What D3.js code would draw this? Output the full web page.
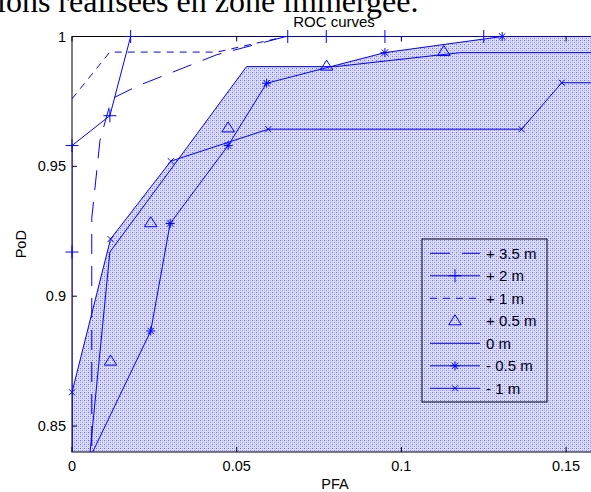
<!DOCTYPE html>
<html>
<head>
<meta charset="utf-8">
<script src="https://cdn.jsdelivr.net/npm/d3@7"></script>
<style>
body { margin: 0; background: #fff; }
text { font-family: "Liberation Sans", Arial, sans-serif; fill: #000; }
</style>
</head>
<body>
<div id="chart"></div>
<script>
var w = 591,
    h = 492,
    m = [36.5, -8, 40, 72]; // top right bottom left (plot runs past the right edge)

// data
var xTicks = [0, 0.05, 0.1, 0.15],
    yTicks = [0.85, 0.9, 0.95, 1];

var pfa35 = [0.006, 0.006, 0.0085, 0.012, 0.02, 0.044, 0.065, 0.16],
    pod35 = [0.83, 0.93, 0.96, 0.976, 0.981, 0.993, 1, 1];
var pfa2 = [0, 0, 0, 0.0115, 0.0178, 0.0655, 0.0772, 0.095, 0.125, 0.16],
    pod2 = [0.83, 0.917, 0.958, 0.9695, 1, 1, 1, 1, 1, 1];
var pfa1 = [0, 0.0115, 0.044, 0.065, 0.16],
    pod1 = [0.976, 0.994, 0.994, 1, 1];
var pfa05 = [0.0117, 0.0239, 0.0474, 0.0773, 0.1129],
    pod05 = [0.875, 0.9283, 0.9648, 0.9886, 0.9942];
var pfa0 = [0.0047, 0.0115, 0.053, 0.08, 0.118, 0.16],
    pod0 = [0.83, 0.917, 0.9884, 0.9884, 0.9938, 0.9938];
var pfaM05 = [0.0025, 0.0239, 0.0298, 0.0474, 0.0591, 0.095, 0.1306, 0.16],
    podM05 = [0.83, 0.8866, 0.928, 0.958, 0.982, 0.9938, 1, 1];
var pfaM1 = [0, 0, 0.0117, 0.03, 0.0596, 0.1365, 0.1487, 0.16],
    podM1 = [0.83, 0.863, 0.922, 0.952, 0.9643, 0.9643, 0.9822, 0.9822];

var labels = ["+ 3.5 m", "+ 2 m", "+ 1 m", "+ 0.5 m", "0 m", "- 0.5 m", "- 1 m"];

function zip(xs, ys) { return xs.map(function(x, i) { return [x, ys[i]]; }); }

var series = [
  {name: labels[0], pts: zip(pfa35, pod35), line: true, dash: "20,12", mark: null},
  {name: labels[1], pts: zip(pfa2, pod2), line: true, dash: null, mark: "plus"},
  {name: labels[2], pts: zip(pfa1, pod1), line: true, dash: "7,6", mark: null},
  {name: labels[3], pts: zip(pfa05, pod05), line: false, dash: null, mark: "tri"},
  {name: labels[4], pts: zip(pfa0, pod0), line: true, dash: null, mark: null},
  {name: labels[5], pts: zip(pfaM05, podM05), line: true, dash: null, mark: "star"},
  {name: labels[6], pts: zip(pfaM1, podM1), line: true, dash: null, mark: "cross"}
];

var markPath = {
  plus: "M-6.5,0H6.5M0,-6.5V6.5",
  star: "M-4.5,0H4.5M0,-4.5V4.5M-3.2,-3.2L3.2,3.2M-3.2,3.2L3.2,-3.2",
  cross: "M-3,-3L3,3M-3,3L3,-3",
  tri: "M0,-6L6.3,4H-6.3Z"
};

var x = d3.scaleLinear().domain([0, 0.16]).range([m[3], w - m[1]]),
    y = d3.scaleLinear().domain([0.84, 1]).range([h - m[2], m[0]]);

var svg = d3.select("#chart").append("svg")
    .attr("width", w)
    .attr("height", h);

// dotted shading pattern
var pat = svg.append("defs").append("pattern")
    .attr("id", "dots")
    .attr("patternUnits", "userSpaceOnUse")
    .attr("width", 4)
    .attr("height", 4);
pat.append("rect").attr("width", 4).attr("height", 4).attr("fill", "#dcdcff");
[[0, 0, "#6464ff"], [2, 2, "#8484ff"], [2, 0, "#b4b4ff"], [0, 2, "#b4b4ff"]].forEach(function(p) {
  pat.append("rect").attr("x", p[0]).attr("y", p[1]).attr("width", 1).attr("height", 1).attr("fill", p[2]);
});

svg.append("clipPath").attr("id", "plotclip")
  .append("rect")
    .attr("x", x(0)).attr("y", y(1))
    .attr("width", x(0.16) - x(0)).attr("height", y(0.84) - y(1));

// page text above the figure
svg.append("text")
    .attr("x", -3)
    .attr("y", 12)
    .style("font-family", "'Liberation Serif', 'Times New Roman', serif")
    .style("font-size", "32px")
    .text("ions réalisées en zone immergée.");

// shaded region: area below the lower curves
var area = d3.area()
    .x(function(d) { return x(d[0]); })
    .y0(y(0.84))
    .y1(function(d) { return y(d[1]); });

var shade = svg.append("g").attr("clip-path", "url(#plotclip)");
[4, 5, 6].forEach(function(i) {
  shade.append("path")
      .attr("d", area(series[i].pts))
      .attr("fill", "url(#dots)");
});

// axes box and ticks
var ax = svg.append("g");
ax.append("rect")
    .attr("x", x(0)).attr("y", y(1))
    .attr("width", x(0.16) - x(0)).attr("height", y(0.84) - y(1))
    .attr("fill", "none").attr("stroke", "#000");

ax.selectAll(".xt").data(xTicks).enter().append("path")
    .attr("d", function(d) {
      return "M" + x(d) + "," + y(0.84) + "v-5M" + x(d) + "," + y(1) + "v5";
    })
    .attr("stroke", "#000");
ax.selectAll(".yt").data(yTicks).enter().append("path")
    .attr("d", function(d) {
      return "M" + x(0) + "," + y(d) + "h5M" + x(0.16) + "," + y(d) + "h-5";
    })
    .attr("stroke", "#000");

ax.selectAll(".xl").data(xTicks).enter().append("text")
    .attr("x", function(d) { return x(d); })
    .attr("y", 470.5)
    .attr("text-anchor", "middle")
    .style("font-size", "14.5px")
    .text(function(d) { return d; });
ax.selectAll(".yl").data(yTicks).enter().append("text")
    .attr("x", 66)
    .attr("y", function(d) { return y(d) + 5; })
    .attr("text-anchor", "end")
    .style("font-size", "14.5px")
    .text(function(d) { return d; });

ax.append("text")
    .attr("x", 335).attr("y", 489)
    .attr("text-anchor", "middle")
    .style("font-size", "14.5px")
    .text("PFA");
ax.append("text")
    .attr("transform", "translate(26," + (y(0.92)) + ") rotate(-90)")
    .attr("text-anchor", "middle")
    .style("font-size", "14.5px")
    .text("PoD");
ax.append("text")
    .attr("x", 334).attr("y", 27)
    .attr("text-anchor", "middle")
    .style("font-size", "15px")
    .text("ROC curves");

// curves
var line = d3.line()
    .x(function(d) { return x(d[0]); })
    .y(function(d) { return y(d[1]); });

var curves = svg.append("g");
series.forEach(function(s) {
  if (s.line) {
    curves.append("path")
        .attr("d", line(s.pts))
        .attr("fill", "none")
        .attr("stroke", "#0000ff")
        .attr("stroke-width", 1)
        .attr("stroke-dasharray", s.dash)
        .attr("clip-path", "url(#plotclip)");
  }
  if (s.mark) {
    curves.selectAll(null)
        .data(s.pts.filter(function(d) { return d[1] >= 0.84; }))
      .enter().append("path")
        .attr("transform", function(d) { return "translate(" + x(d[0]) + "," + y(d[1]) + ")"; })
        .attr("d", markPath[s.mark])
        .attr("fill", "none")
        .attr("stroke", "#0000ff")
        .attr("stroke-width", 1);
  }
});

// legend
var lg = svg.append("g").attr("transform", "translate(422,239)");
lg.append("rect")
    .attr("width", 125).attr("height", 163)
    .attr("fill", "none").attr("stroke", "#000");

var row = lg.selectAll(".row").data(series).enter().append("g")
    .attr("transform", function(d, i) { return "translate(0," + (14.3 + i * 22.5) + ")"; });
row.filter(function(d) { return d.line; }).append("path")
    .attr("d", "M8,0H58")
    .attr("stroke", "#0000ff")
    .attr("stroke-dasharray", function(d) { return d.dash; });
row.filter(function(d) { return d.mark; }).append("path")
    .attr("transform", "translate(33,0)")
    .attr("d", function(d) { return markPath[d.mark]; })
    .attr("fill", "none")
    .attr("stroke", "#0000ff");
row.append("text")
    .attr("x", 64)
    .attr("y", 5.5)
    .style("font-size", "15px")
    .text(function(d) { return d.name; });
</script>
</body>
</html>
